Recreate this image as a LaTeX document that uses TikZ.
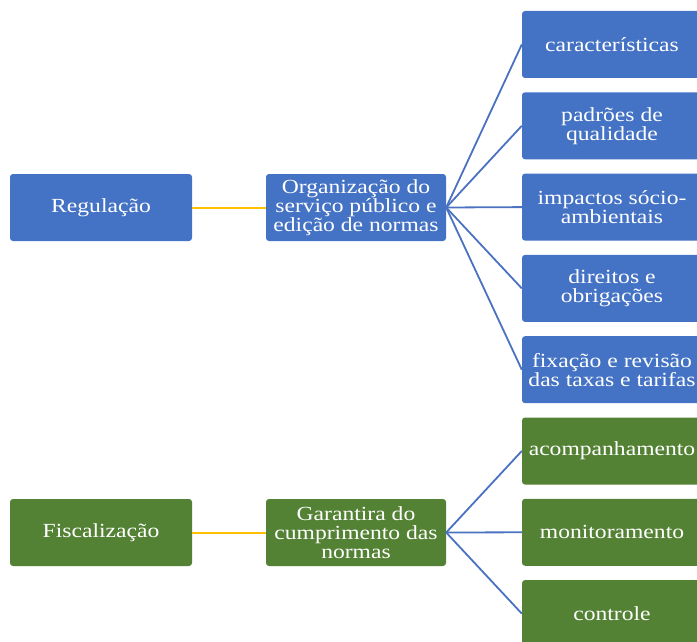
\documentclass[tikz,border=0pt]{standalone}
\usepackage{fontspec}
\setmainfont{Liberation Serif}[FakeStretch=1.18]
\definecolor{boxblue}{HTML}{4472C4}
\definecolor{boxgreen}{HTML}{548235}
\definecolor{linegold}{HTML}{FFC000}
\definecolor{lineblue}{HTML}{4A72C0}
\tikzset{
  box/.style={rectangle, rounded corners=3pt, minimum height=67pt, minimum width=180pt,
    inner sep=0pt, align=center, text=white, font=\fontsize{20}{19}\selectfont},
  bluebox/.style={box, fill=boxblue},
  greenbox/.style={box, fill=boxgreen},
  yline/.style={draw=linegold, line width=2pt},
  bline/.style={draw=lineblue, line width=1.8pt},
}
\begin{document}
\begin{tikzpicture}[x=1pt,y=1pt]
\useasboundingbox (0,0) rectangle (697,-642);
% top group
\node[bluebox, minimum width=182pt] (reg) at (101,-207.5) {Regulação};
\node[bluebox] (org) at (356,-207.5) {Organização do\\serviço público e\\edição de normas};
\node[bluebox] (r1) at (612,-44.5) {características};
\node[bluebox] (r2) at (612,-125.8) {padrões de\\qualidade};
\node[bluebox] (r3) at (612,-207.1) {impactos sócio-\\ambientais};
\node[bluebox] (r4) at (612,-288.4) {direitos e\\obrigações};
\node[bluebox] (r5) at (612,-369.7) {fixação e revisão\\das taxas e tarifas};
% bottom group
\node[greenbox, minimum width=182pt] (fis) at (101,-532.5) {Fiscalização};
\node[greenbox] (gar) at (356,-532.5) {Garantira do\\cumprimento das\\normas};
\node[greenbox] (g1) at (612,-451) {acompanhamento};
\node[greenbox] (g2) at (612,-532.3) {monitoramento};
\node[greenbox] (g3) at (612,-613.6) {controle};
% connectors
\draw[yline] (reg.east) -- (org.west);
\foreach \t in {r1,r2,r3,r4,r5} \draw[bline] (org.east) -- (\t.west);
\draw[yline] (fis.east) -- (gar.west);
\foreach \t in {g1,g2,g3} \draw[bline] (gar.east) -- (\t.west);
\end{tikzpicture}
\end{document}
